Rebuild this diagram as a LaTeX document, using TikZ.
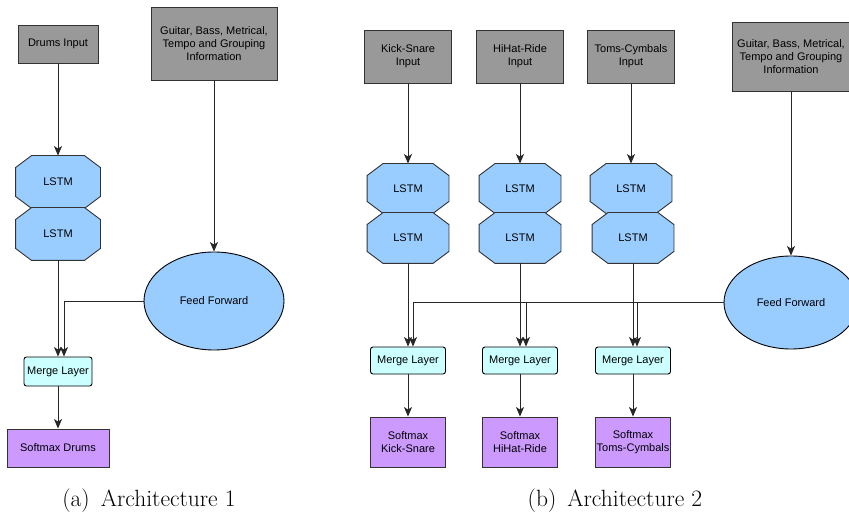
\documentclass[tikz,border=0pt]{standalone}
\usepackage{fontspec}
\newfontfamily\arialf{Liberation Sans}
\usetikzlibrary{shapes.geometric,arrows.meta,calc,backgrounds}
\definecolor{inpgray}{HTML}{999999}
\definecolor{lstmblue}{HTML}{99CCFF}
\definecolor{mergecyan}{HTML}{CCFFFF}
\definecolor{softpurple}{HTML}{CC99FF}
\definecolor{edgec}{HTML}{333333}
\newcommand\octpath[1]{($(#1.north west)+(16,0)$) -- ($(#1.north east)+(-16,0)$) -- ($(#1.north east)+(0,12)$) -- ($(#1.south east)+(0,-12)$) -- ($(#1.south east)+(-16,0)$) -- ($(#1.south west)+(16,0)$) -- ($(#1.south west)+(0,-12)$) -- ($(#1.north west)+(0,12)$) -- cycle}
\tikzset{
  base/.style={font=\arialf\fontsize{11}{13.3}\selectfont, align=center, inner sep=0pt, line width=0.9pt, draw=edgec},
  inbox/.style={base, fill=inpgray},
  lstmbox/.style={base, draw=none},
  ffell/.style={base, ellipse, fill=lstmblue, draw=black},
  mergebox/.style={base, fill=mergecyan, draw=black, rounded corners=2.5pt},
  softbox/.style={base, fill=softpurple},
  arr/.style={draw=black!85, line width=0.9pt, -{Stealth[length=9.5pt,width=8pt,inset=2.5pt]}},
  captext/.style={font=\fontsize{23.5}{28}\selectfont, inner sep=0pt}
}
\begin{document}
\begin{tikzpicture}[x=1pt,y=-1pt]
\useasboundingbox (0,0) rectangle (849,513);
% ---------- Architecture 1 ----------
\node[inbox, minimum width=80, minimum height=38] (drums) at (58,44) {Drums Input};
\node[inbox, minimum width=126, minimum height=73] (guit1) at (214,43.5) {Guitar, Bass, Metrical,\\Tempo and Grouping\\Information};
\node[lstmbox, minimum width=84, minimum height=52] (la1) at (58,182) {LSTM};
\node[lstmbox, minimum width=84, minimum height=52] (la2) at (58,234) {LSTM};
\node[ffell, minimum width=140, minimum height=98] (ff1) at (214,301) {Feed Forward};
\node[mergebox, minimum width=68, minimum height=29] (mg1) at (58,371.5) {Merge Layer};
\node[softbox, minimum width=102, minimum height=38] (sm1) at (58,448) {Softmax Drums};
\node[captext] (capa) at (149,501) {(a)\ \,Architecture 1};
% ---------- Architecture 2 ----------
\node[inbox, minimum width=87, minimum height=53] (in1) at (408,56.5) {Kick-Snare\\Input};
\node[inbox, minimum width=87, minimum height=53] (in2) at (520,56.5) {HiHat-Ride\\Input};
\node[inbox, minimum width=87, minimum height=53] (in3) at (631,56.5) {Toms-Cymbals\\Input};
\node[inbox, minimum width=118, minimum height=69] (guit2) at (791,56.5) {Guitar, Bass, Metrical,\\Tempo and Grouping\\Information};
\node[lstmbox, minimum width=81, minimum height=49] (lb1) at (408,188.5) {LSTM};
\node[lstmbox, minimum width=81, minimum height=50] (lb2) at (408,238) {LSTM};
\node[lstmbox, minimum width=81, minimum height=49] (lc1) at (520,188.5) {LSTM};
\node[lstmbox, minimum width=81, minimum height=50] (lc2) at (520,238) {LSTM};
\node[lstmbox, minimum width=81, minimum height=49] (ld1) at (631,188.5) {LSTM};
\node[lstmbox, minimum width=81, minimum height=50] (ld2) at (633,238) {LSTM};
\node[ffell, minimum width=134, minimum height=93] (ff2) at (791,302.5) {Feed Forward};
\node[mergebox, minimum width=75, minimum height=27] (mb) at (408,360.5) {Merge Layer};
\node[mergebox, minimum width=75, minimum height=27] (mc) at (520,360.5) {Merge Layer};
\node[mergebox, minimum width=75, minimum height=27] (md) at (633,360.5) {Merge Layer};
\node[softbox, minimum width=75, minimum height=50] (sb) at (408,442) {Softmax\\Kick-Snare};
\node[softbox, minimum width=75, minimum height=50] (sc) at (520,442) {Softmax\\HiHat-Ride};
\node[softbox, minimum width=75, minimum height=50] (sd) at (633,442) {Softmax\\Toms-Cymbals};
\node[captext] (capb) at (615,501) {(b)\ \,Architecture 2};
% octagons behind LSTM labels
\begin{scope}[on background layer]
  \foreach \n in {la1,la2,lb1,lb2,lc1,lc2,ld1,ld2}{
    \filldraw[fill=lstmblue, draw=edgec, line width=0.9pt] \octpath{\n};
  }
\end{scope}
% ---------- connectors Arch 1 ----------
\draw[arr] (drums) -- (la1);
\draw[arr] (guit1) -- (ff1);
\draw[arr] (la2) -- (mg1);
\draw[arr] (ff1.west) -| ([xshift=6]mg1.north);
\draw[arr] (mg1) -- (sm1);
% ---------- connectors Arch 2 ----------
\draw[arr] (in1) -- (lb1);
\draw[arr] (in2) -- (lc1);
\draw[arr] (in3) -- (ld1);
\draw[arr] (guit2) -- (ff2);
\draw[arr] (lb2) -- (mb);
\draw[arr] (lc2) -- (mc);
\draw[arr] (ld2) -- (md);
\draw[arr] (ff2.west) -| ([xshift=5]mb.north);
\draw[arr] ([xshift=6]mc.north |- ff2.west) -- ([xshift=6]mc.north);
\draw[arr] ([xshift=4]md.north |- ff2.west) -- ([xshift=4]md.north);
\draw[arr] (mb) -- (sb);
\draw[arr] (mc) -- (sc);
\draw[arr] (md) -- (sd);
\end{tikzpicture}
\end{document}
